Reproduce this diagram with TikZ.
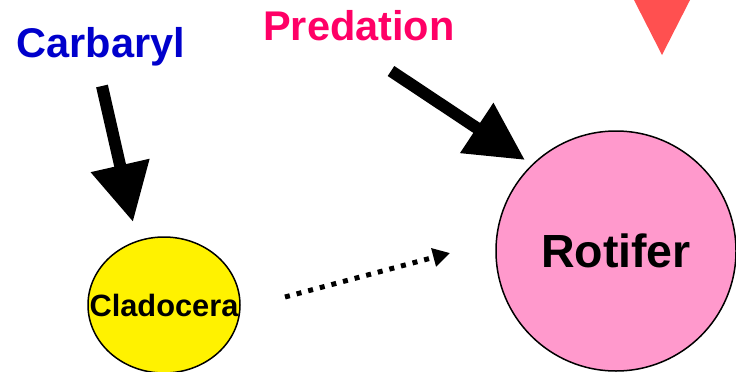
\documentclass[tikz,border=0pt]{standalone}
\usepackage{fontspec}
\setmainfont{Liberation Sans}
\usetikzlibrary{arrows.meta,shapes.geometric}
\definecolor{carbblue}{RGB}{0,0,204}
\definecolor{predpink}{RGB}{255,0,102}
\definecolor{rotpink}{RGB}{255,153,204}
\definecolor{trired}{RGB}{255,80,80}
\tikzset{
  label text/.style={inner sep=0pt, font=\bfseries\fontsize{41.5}{45}\selectfont, anchor=base},
  bigarrow/.style={line width=12pt, -{Triangle[length=58pt,width=57pt]}},
  dotarrow/.style={line width=5pt, dash pattern=on 5pt off 7pt, -{Triangle[length=17pt,width=18pt]}},
}
\begin{document}
\begin{tikzpicture}[x=1pt,y=-1pt]
\useasboundingbox (0,0) rectangle (736,372);
% triangle
\fill[trired] (634,0) -- (690,0) -- (662,55) -- cycle;
% nodes
\node[label text, text=carbblue] (carb) at (101,57) {Carbaryl};
\node[label text, text=predpink] (pred) at (359,40) {Predation};
\node[circle, draw=black, line width=1.5pt, fill=rotpink, minimum size=240pt, inner sep=0pt,
      font=\bfseries\fontsize{46.5}{50}\selectfont] (rot) at (616,251) {Rotifer};
\node[ellipse, draw=black, line width=1.5pt, fill=yellow, minimum width=152pt, minimum height=136pt, inner sep=0pt,
      font=\bfseries\fontsize{30.8}{34}\selectfont] (clad) at (164,305) {\makebox[0pt]{Cladocera}};
% arrow end points
\coordinate (cs) at (102,86);
\coordinate (ce) at (133,222);
\coordinate (ps) at (391,71);
\coordinate (pe) at (525,160);
\coordinate (ds) at (285,297);
\coordinate (de) at (450,253);
% connectors
\draw[bigarrow] (cs) -- (ce);
\draw[bigarrow] (ps) -- (pe);
\draw[dotarrow] (ds) -- (de);
\end{tikzpicture}
\end{document}
